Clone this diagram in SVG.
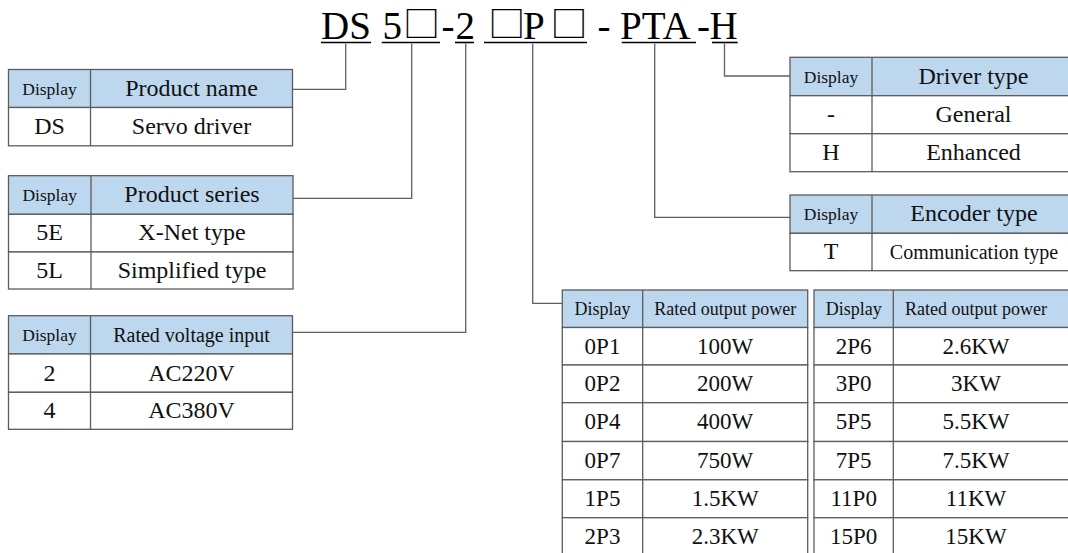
<svg xmlns="http://www.w3.org/2000/svg" width="1068" height="553" viewBox="0 0 1068 553">
<style>
  .bg { fill: #ffffff; }
  .hdr { fill: #BDD7EE; stroke: #5c5c5c; stroke-width: 1.3; }
  .row { fill: #ffffff; stroke: #5c5c5c; stroke-width: 1.3; }
  .div { stroke: #5c5c5c; stroke-width: 1.3; }
  .conn { fill: none; stroke: #606060; stroke-width: 1.3; }
  .ul { stroke: #000; stroke-width: 1.6; }
  text { font-family: "Liberation Serif", "Times New Roman", serif; fill: #111; text-anchor: middle; }
  .t { font-size: 39px; text-anchor: start; fill: #000; }
  .box { font-family: "Noto Sans CJK SC", "DejaVu Sans", sans-serif; font-size: 35px; text-anchor: middle; fill: #000; }
  .dsp { font-size: 17.5px; }
  .h24 { font-size: 24px; }
  .h20 { font-size: 20px; }
  .h18 { font-size: 18px; }
  .b { font-size: 24px; }
  .b23 { font-size: 23px; }
</style>
<rect class="bg" x="0" y="0" width="1068" height="553"/>

<g id="title">
  <text class="t" x="321" y="39.3">DS</text>
  <text class="t" x="382.5" y="39.3">5</text>
  <text class="box" x="421.5" y="37" textLength="37" lengthAdjust="spacingAndGlyphs">□</text>
  <text class="t" x="441.5" y="39.3">-</text>
  <text class="t" x="455.5" y="39.3">2</text>
  <text class="box" x="506.7" y="37" textLength="37" lengthAdjust="spacingAndGlyphs">□</text>
  <text class="t" x="523" y="39.3">P</text>
  <text class="box" x="569" y="37" textLength="37" lengthAdjust="spacingAndGlyphs">□</text>
  <text class="t" x="597.5" y="39.3">-</text>
  <text class="t" x="620" y="39.3">PTA</text>
  <text class="t" x="697" y="39.3">-</text>
  <text class="t" x="709.5" y="39.3">H</text>
  <line class="ul" x1="321" y1="42.5" x2="371" y2="42.5"/>
  <line class="ul" x1="381.7" y1="42.5" x2="440" y2="42.5"/>
  <line class="ul" x1="455" y1="42.5" x2="474" y2="42.5"/>
  <line class="ul" x1="484" y1="42.5" x2="587" y2="42.5"/>
  <line class="ul" x1="621.7" y1="42.5" x2="696" y2="42.5"/>
  <line class="ul" x1="712" y1="42.5" x2="737.7" y2="42.5"/>
</g>

<g id="connectors">
  <path class="conn" d="M345.7 43.5 V89.3 H292.5"/>
  <path class="conn" d="M411.7 43.5 V198.3 H293"/>
  <path class="conn" d="M465.7 43.5 V332.3 H292.5"/>
  <path class="conn" d="M532.7 43.5 V303.3 H562.3"/>
  <path class="conn" d="M654.7 43.5 V217.3 H790"/>
  <path class="conn" d="M724.5 43.5 V76 H790"/>
</g>

<g id="product-name">
  <rect class="hdr" x="8.5" y="69.5" width="284" height="38"/>
  <rect class="row" x="8.5" y="107.5" width="284" height="38.3"/>
  <line class="div" x1="90.5" y1="69.5" x2="90.5" y2="145.8"/>
  <text class="dsp" x="49.5" y="94.5">Display</text>
  <text class="h24" x="191.5" y="95.5">Product name</text>
  <text class="b" x="49.5" y="133.5">DS</text>
  <text class="b" x="191.5" y="133.5">Servo driver</text>
</g>

<g id="product-series">
  <rect class="hdr" x="8.5" y="175.7" width="284.5" height="38.6"/>
  <rect class="row" x="8.5" y="214.3" width="284.5" height="37.7"/>
  <rect class="row" x="8.5" y="252" width="284.5" height="37"/>
  <line class="div" x1="91" y1="175.7" x2="91" y2="289"/>
  <text class="dsp" x="49.7" y="201">Display</text>
  <text class="h24" x="192" y="202">Product series</text>
  <text class="b" x="49.7" y="240">5E</text>
  <text class="b" x="192" y="240">X-Net type</text>
  <text class="b" x="49.7" y="277.5">5L</text>
  <text class="b" x="192" y="277.5">Simplified type</text>
</g>

<g id="rated-voltage">
  <rect class="hdr" x="8.5" y="315.7" width="284" height="38.3"/>
  <rect class="row" x="8.5" y="354" width="284" height="38.3"/>
  <rect class="row" x="8.5" y="392.3" width="284" height="37"/>
  <line class="div" x1="90.5" y1="315.7" x2="90.5" y2="429.3"/>
  <text class="dsp" x="49.5" y="340.8">Display</text>
  <text class="h20" x="191.5" y="341.5">Rated voltage input</text>
  <text class="b" x="49.5" y="380.5">2</text>
  <text class="b" x="191.5" y="380.5">AC220V</text>
  <text class="b" x="49.5" y="418">4</text>
  <text class="b" x="191.5" y="418">AC380V</text>
</g>

<g id="driver-type">
  <rect class="hdr" x="790" y="57.3" width="290" height="38.4"/>
  <rect class="row" x="790" y="95.7" width="290" height="38"/>
  <rect class="row" x="790" y="133.7" width="290" height="38"/>
  <line class="div" x1="872" y1="57.3" x2="872" y2="171.7"/>
  <text class="dsp" x="831" y="82.5">Display</text>
  <text class="h24" x="973.5" y="83.5">Driver type</text>
  <text class="b" x="831" y="121.5">-</text>
  <text class="b" x="973.5" y="121.5">General</text>
  <text class="b" x="831" y="159.5">H</text>
  <text class="b" x="973.5" y="159.5">Enhanced</text>
</g>

<g id="encoder-type">
  <rect class="hdr" x="790" y="195" width="290" height="38.3"/>
  <rect class="row" x="790" y="233.3" width="290" height="37.4"/>
  <line class="div" x1="872" y1="195" x2="872" y2="270.7"/>
  <text class="dsp" x="831" y="220.2">Display</text>
  <text class="h24" x="974" y="221">Encoder type</text>
  <text class="b" x="831" y="259">T</text>
  <text class="h20" x="974" y="258.5">Communication type</text>
</g>

<g id="output-power-1">
  <rect class="hdr" x="562.3" y="290" width="245.4" height="37.5"/>
  <rect class="row" x="562.3" y="327.5" width="245.4" height="37.5"/>
  <rect class="row" x="562.3" y="365" width="245.4" height="37.7"/>
  <rect class="row" x="562.3" y="402.7" width="245.4" height="38.8"/>
  <rect class="row" x="562.3" y="441.5" width="245.4" height="38.3"/>
  <rect class="row" x="562.3" y="479.8" width="245.4" height="37.9"/>
  <rect class="row" x="562.3" y="517.7" width="245.4" height="40"/>
  <line class="div" x1="642.7" y1="290" x2="642.7" y2="557"/>
  <text class="h18" x="602.5" y="314.8">Display</text>
  <text class="h18" x="725.2" y="314.8">Rated output power</text>
  <text class="b23" x="602.5" y="353.5">0P1</text>
  <text class="b23" x="725.2" y="353.5">100W</text>
  <text class="b23" x="602.5" y="391">0P2</text>
  <text class="b23" x="725.2" y="391">200W</text>
  <text class="b23" x="602.5" y="429">0P4</text>
  <text class="b23" x="725.2" y="429">400W</text>
  <text class="b23" x="602.5" y="467.5">0P7</text>
  <text class="b23" x="725.2" y="467.5">750W</text>
  <text class="b23" x="602.5" y="505.5">1P5</text>
  <text class="b23" x="725.2" y="505.5">1.5KW</text>
  <text class="b23" x="602.5" y="543.5">2P3</text>
  <text class="b23" x="725.2" y="543.5">2.3KW</text>
</g>

<g id="output-power-2">
  <rect class="hdr" x="814" y="290" width="266" height="37.5"/>
  <rect class="row" x="814" y="327.5" width="266" height="37.5"/>
  <rect class="row" x="814" y="365" width="266" height="37.7"/>
  <rect class="row" x="814" y="402.7" width="266" height="38.8"/>
  <rect class="row" x="814" y="441.5" width="266" height="38.3"/>
  <rect class="row" x="814" y="479.8" width="266" height="37.9"/>
  <rect class="row" x="814" y="517.7" width="266" height="40"/>
  <line class="div" x1="893.3" y1="290" x2="893.3" y2="557"/>
  <text class="h18" x="853.7" y="314.8">Display</text>
  <text class="h18" x="976" y="314.8">Rated output power</text>
  <text class="b23" x="853.7" y="353.5">2P6</text>
  <text class="b23" x="976" y="353.5">2.6KW</text>
  <text class="b23" x="853.7" y="391">3P0</text>
  <text class="b23" x="976" y="391">3KW</text>
  <text class="b23" x="853.7" y="429">5P5</text>
  <text class="b23" x="976" y="429">5.5KW</text>
  <text class="b23" x="853.7" y="467.5">7P5</text>
  <text class="b23" x="976" y="467.5">7.5KW</text>
  <text class="b23" x="853.7" y="505.5">11P0</text>
  <text class="b23" x="976" y="505.5">11KW</text>
  <text class="b23" x="853.7" y="543.5">15P0</text>
  <text class="b23" x="976" y="543.5">15KW</text>
</g>
</svg>
